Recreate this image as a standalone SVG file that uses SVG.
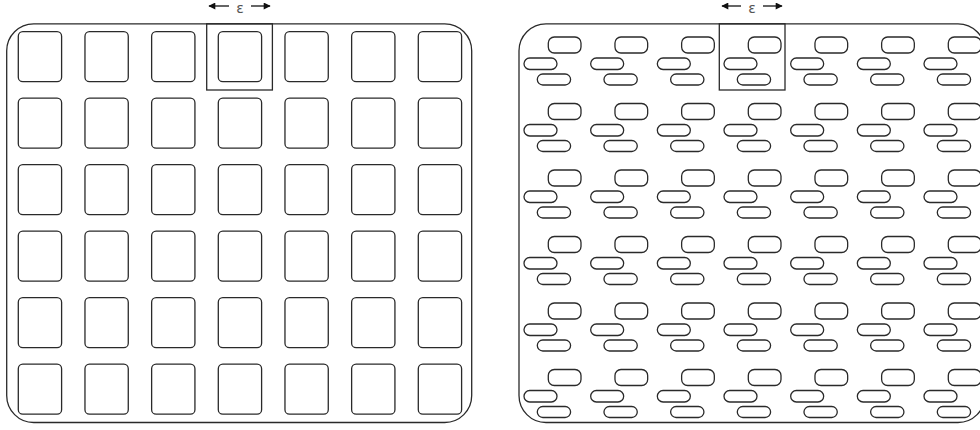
<svg xmlns="http://www.w3.org/2000/svg" xmlns:xlink="http://www.w3.org/1999/xlink" width="980" height="430" viewBox="0 0 980 430">
<style>
.ln{fill:none;stroke:#2a2a2a;stroke-width:1.3}
.ar{fill:none;stroke:#111;stroke-width:1.3}
.eps{font-family:"DejaVu Sans","Liberation Sans",sans-serif;font-size:14px;fill:#555;text-anchor:middle}
</style>
<defs>
<marker id="ah" viewBox="0 0 10 10" refX="9" refY="5" markerWidth="9" markerHeight="7" markerUnits="userSpaceOnUse" orient="auto">
<path d="M0,0 L10,5 L0,10 Z" fill="#111"/>
</marker>
<g id="sq"><rect class="ln" x="11.6" y="7.7" width="43.3" height="50" rx="4.5"/></g>
<g id="pl">
<rect class="ln" x="29" y="13" width="32.7" height="16" rx="6"/>
<rect class="ln" x="4.7" y="34" width="33" height="11.5" rx="5.7"/>
<rect class="ln" x="18" y="50" width="33.3" height="11" rx="5.5"/>
</g>
</defs>
<g id="left-panel">
<rect class="ln" x="6.7" y="23.8" width="465" height="398.7" rx="27"/>
<g id="left-cells">
<use href="#sq" x="6.7" y="24"/><use href="#sq" x="73.37" y="24"/><use href="#sq" x="140.03" y="24"/><use href="#sq" x="206.7" y="24"/><use href="#sq" x="273.37" y="24"/><use href="#sq" x="340.03" y="24"/><use href="#sq" x="406.7" y="24"/>
<use href="#sq" x="6.7" y="90.5"/><use href="#sq" x="73.37" y="90.5"/><use href="#sq" x="140.03" y="90.5"/><use href="#sq" x="206.7" y="90.5"/><use href="#sq" x="273.37" y="90.5"/><use href="#sq" x="340.03" y="90.5"/><use href="#sq" x="406.7" y="90.5"/>
<use href="#sq" x="6.7" y="157"/><use href="#sq" x="73.37" y="157"/><use href="#sq" x="140.03" y="157"/><use href="#sq" x="206.7" y="157"/><use href="#sq" x="273.37" y="157"/><use href="#sq" x="340.03" y="157"/><use href="#sq" x="406.7" y="157"/>
<use href="#sq" x="6.7" y="223.5"/><use href="#sq" x="73.37" y="223.5"/><use href="#sq" x="140.03" y="223.5"/><use href="#sq" x="206.7" y="223.5"/><use href="#sq" x="273.37" y="223.5"/><use href="#sq" x="340.03" y="223.5"/><use href="#sq" x="406.7" y="223.5"/>
<use href="#sq" x="6.7" y="290"/><use href="#sq" x="73.37" y="290"/><use href="#sq" x="140.03" y="290"/><use href="#sq" x="206.7" y="290"/><use href="#sq" x="273.37" y="290"/><use href="#sq" x="340.03" y="290"/><use href="#sq" x="406.7" y="290"/>
<use href="#sq" x="6.7" y="356.5"/><use href="#sq" x="73.37" y="356.5"/><use href="#sq" x="140.03" y="356.5"/><use href="#sq" x="206.7" y="356.5"/><use href="#sq" x="273.37" y="356.5"/><use href="#sq" x="340.03" y="356.5"/><use href="#sq" x="406.7" y="356.5"/>
</g>
<rect id="left-unit-cell" class="ln" x="206.7" y="23.8" width="65.7" height="66.2"/>
<g id="left-epsilon">
<line class="ar" x1="229" y1="6" x2="209" y2="6" marker-end="url(#ah)"/>
<line class="ar" x1="251" y1="6" x2="270" y2="6" marker-end="url(#ah)"/>
<text class="eps" x="240" y="12.5">ε</text>
</g>
</g>
<g id="right-panel">
<rect class="ln" x="519" y="23.8" width="466" height="398.7" rx="27"/>
<g id="right-cells">
<use href="#pl" x="519.3" y="24"/><use href="#pl" x="585.97" y="24"/><use href="#pl" x="652.63" y="24"/><use href="#pl" x="719.3" y="24"/><use href="#pl" x="785.97" y="24"/><use href="#pl" x="852.63" y="24"/><use href="#pl" x="919.3" y="24"/>
<use href="#pl" x="519.3" y="90.5"/><use href="#pl" x="585.97" y="90.5"/><use href="#pl" x="652.63" y="90.5"/><use href="#pl" x="719.3" y="90.5"/><use href="#pl" x="785.97" y="90.5"/><use href="#pl" x="852.63" y="90.5"/><use href="#pl" x="919.3" y="90.5"/>
<use href="#pl" x="519.3" y="157"/><use href="#pl" x="585.97" y="157"/><use href="#pl" x="652.63" y="157"/><use href="#pl" x="719.3" y="157"/><use href="#pl" x="785.97" y="157"/><use href="#pl" x="852.63" y="157"/><use href="#pl" x="919.3" y="157"/>
<use href="#pl" x="519.3" y="223.5"/><use href="#pl" x="585.97" y="223.5"/><use href="#pl" x="652.63" y="223.5"/><use href="#pl" x="719.3" y="223.5"/><use href="#pl" x="785.97" y="223.5"/><use href="#pl" x="852.63" y="223.5"/><use href="#pl" x="919.3" y="223.5"/>
<use href="#pl" x="519.3" y="290"/><use href="#pl" x="585.97" y="290"/><use href="#pl" x="652.63" y="290"/><use href="#pl" x="719.3" y="290"/><use href="#pl" x="785.97" y="290"/><use href="#pl" x="852.63" y="290"/><use href="#pl" x="919.3" y="290"/>
<use href="#pl" x="519.3" y="356.5"/><use href="#pl" x="585.97" y="356.5"/><use href="#pl" x="652.63" y="356.5"/><use href="#pl" x="719.3" y="356.5"/><use href="#pl" x="785.97" y="356.5"/><use href="#pl" x="852.63" y="356.5"/><use href="#pl" x="919.3" y="356.5"/>
</g>
<rect id="right-unit-cell" class="ln" x="719.3" y="23.8" width="65.7" height="66.2"/>
<g id="right-epsilon">
<line class="ar" x1="741" y1="6" x2="722" y2="6" marker-end="url(#ah)"/>
<line class="ar" x1="763" y1="6" x2="782" y2="6" marker-end="url(#ah)"/>
<text class="eps" x="752" y="12.5">ε</text>
</g>
</g>
</svg>
